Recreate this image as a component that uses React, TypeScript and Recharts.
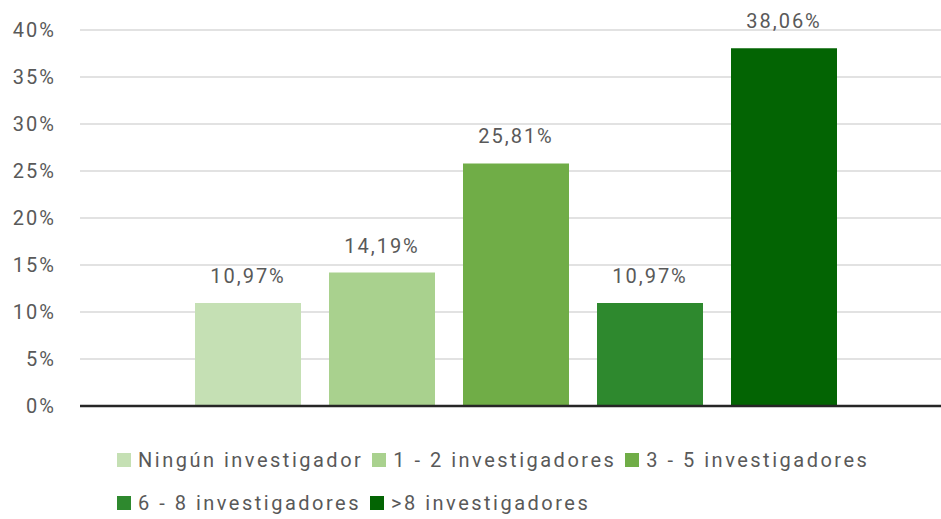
import { BarChart, Bar, XAxis, YAxis, CartesianGrid, Legend, LabelList, ReferenceLine } from 'recharts'

const categories = ['Investigadores']
const seriesNames = [
  'Ningún investigador',
  '1 - 2 investigadores',
  '3 - 5 investigadores',
  '6 - 8 investigadores',
  '>8 investigadores',
]
const seriesValues = [10.97, 14.19, 25.81, 10.97, 38.06]
const seriesColors = ['#C5E0B4', '#A9D18E', '#70AD47', '#2E892E', '#036403']
const yTicks = [0, 5, 10, 15, 20, 25, 30, 35, 40]

const data = categories.map((name) => {
  const row: Record<string, string | number> = { name }
  seriesNames.forEach((s, i) => {
    row[`s${i}`] = seriesValues[i]
  })
  return row
})

const FONT = 'Roboto, "DejaVu Sans", sans-serif'
const TEXT = '#595959'

const fmtLabel = (v: number) => `${v.toFixed(2).replace('.', ',')}%`

function CustomLegend({ payload }: { payload?: { value: string; color: string }[] }) {
  if (!payload) return null
  // keep the series order, not the sorted one
  const ordered = seriesNames
    .map((n) => payload.find((p) => p.value === n))
    .filter(Boolean) as { value: string; color: string }[]
  const rows = [ordered.slice(0, 3), ordered.slice(3)]
  return (
    <div style={{ fontFamily: FONT, fontSize: 20, letterSpacing: 2.5, color: TEXT }}>
      {rows.map((row, r) => (
        <div key={r} style={{ display: 'flex', alignItems: 'center', height: 43 }}>
          {row.map((p) => (
            <div key={p.value} style={{ display: 'flex', alignItems: 'center', marginRight: 9 }}>
              <span style={{ width: 14, height: 14, background: p.color, marginRight: 7, display: 'inline-block' }} />
              <span>{p.value}</span>
            </div>
          ))}
        </div>
      ))}
    </div>
  )
}

export default function App() {
  return (
    <div style={{ position: 'absolute', left: 0, top: 0, background: '#fff' }}>
      <BarChart
        width={941}
        height={519}
        data={data}
        margin={{ top: 30, right: 0, left: 0, bottom: 113 }}
        barSize={106}
        barGap={28}
      >
        <CartesianGrid vertical={false} stroke="#D9D9D9" strokeWidth={1.5} />
        <XAxis dataKey="name" hide padding={{ left: 10, right: 0 }} />
        <YAxis
          width={80}
          domain={[0, 40]}
          ticks={yTicks}
          interval={0}
          axisLine={false}
          tickLine={false}
          tickSize={0}
          tickMargin={24}
          tickFormatter={(v) => `${v}%`}
          tick={{ fill: TEXT, fontSize: 20, fontFamily: FONT, letterSpacing: 2 }}
        />
        <Legend
          verticalAlign="middle"
          align="center"
          content={<CustomLegend />}
          wrapperStyle={{ top: 438, left: 117, width: 820 }}
        />
        {seriesNames.map((s, i) => (
          <Bar key={s} dataKey={`s${i}`} name={s} fill={seriesColors[i]} isAnimationActive={false}>
            <LabelList
              dataKey={`s${i}`}
              position="top"
              offset={20}
              formatter={(v: number) => fmtLabel(v)}
              style={{ fill: TEXT, fontSize: 20, fontFamily: FONT, letterSpacing: 2 }}
            />
          </Bar>
        ))}
        <ReferenceLine y={0} stroke="#262626" strokeWidth={2.5} />
      </BarChart>
    </div>
  )
}
